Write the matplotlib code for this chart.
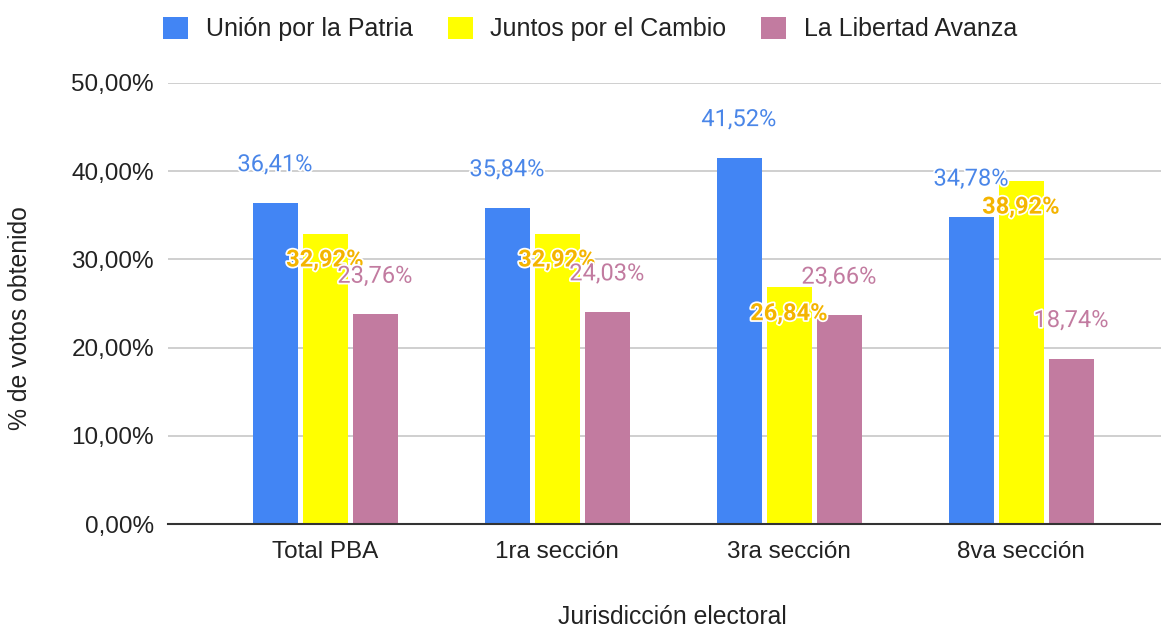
import numpy as np
import matplotlib
matplotlib.use("Agg")
import matplotlib.pyplot as plt
import matplotlib.patheffects as pe

# data
categories = ["Total PBA", "1ra sección", "3ra sección", "8va sección"]
series_names = ["Unión por la Patria", "Juntos por el Cambio", "La Libertad Avanza"]
union_patria = [36.41, 35.84, 41.52, 34.78]
juntos_cambio = [32.92, 32.92, 26.84, 38.92]
libertad_avanza = [23.76, 24.03, 23.66, 18.74]
y_ticks = [0, 10, 20, 30, 40, 50]

bar_colors = ["#4285F4", "#FFFF00", "#C27BA0"]
label_colors = ["#4A86E8", "#F4B400", "#C27BA0"]

W, H = 1161, 627
fig = plt.figure(figsize=(W / 100, H / 100), dpi=100)
ax = fig.add_axes([168 / W, 1 - 524 / H, (W - 168) / W, (524 - 83) / H])

x = np.arange(len(categories))
width = 45 / 232
step = 50 / 232

all_series = [union_patria, juntos_cambio, libertad_avanza]
for i, (vals, name) in enumerate(zip(all_series, series_names)):
    xs = x + (i - 1) * step
    ax.bar(xs, vals, width=width, color=bar_colors[i], label=name, zorder=3)
    for xx, v in zip(xs, vals):
        # google sheets puts the yellow labels inside, others above
        if i == 1:
            off = -19
            weight = "bold"
        else:
            off = 27.5
            weight = "normal"
        ax.annotate(f"{v:.2f}%".replace(".", ","), (xx, v), xytext=(0, off),
                    textcoords="offset points", ha="center", va="center",
                    fontsize=17, color=label_colors[i], fontweight=weight,
                    family="Roboto", zorder=5,
                    path_effects=[pe.withStroke(linewidth=2.5, foreground="white")])

ax.set_ylim(0, 50)
ax.set_xlim(-157 / 232, 3 + 140 / 232)
ax.set_yticks(y_ticks)
ax.set_yticklabels([f"{t:.2f}%".replace(".", ",") for t in y_ticks],
                   family="Liberation Sans", fontsize=17.5, color="#222222")
ax.set_xticks(x)
ax.set_xticklabels(categories, family="Liberation Sans", fontsize=17.5, color="#222222")
ax.tick_params(axis="both", length=0)
ax.tick_params(axis="y", pad=10)
ax.tick_params(axis="x", pad=12)

ax.grid(axis="y", color="#cccccc", linewidth=1.3, zorder=0)
for s in ["top", "right", "left"]:
    ax.spines[s].set_visible(False)
ax.spines["bottom"].set_color("#333333")
ax.spines["bottom"].set_linewidth(1.5)
ax.spines["bottom"].set_zorder(4)

fig.text(672 / W, 1 - 617 / H, "Jurisdicción electoral", ha="center", va="center",
         family="Liberation Sans", fontsize=17.8, color="#222222")
fig.text(20 / W, 1 - 318 / H, "% de votos obtenido", ha="center", va="center",
         rotation=90, family="Liberation Sans", fontsize=17.8, color="#222222")

leg = fig.legend(loc="center", bbox_to_anchor=(590 / W, 1 - 29 / H), ncol=3,
                 frameon=False, prop={"family": "Liberation Sans", "size": 18},
                 handlelength=1.0, handleheight=1.0, handletextpad=0.7,
                 columnspacing=1.4, borderpad=0)
for t in leg.get_texts():
    t.set_color("#222222")

fig.savefig("out.png", dpi=100)
